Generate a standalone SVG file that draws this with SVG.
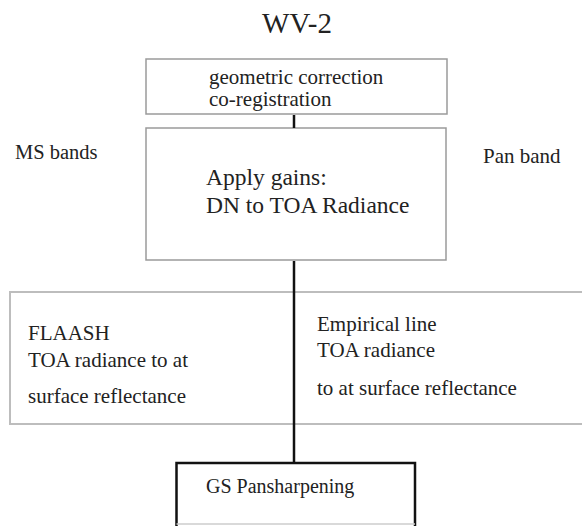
<svg xmlns="http://www.w3.org/2000/svg" width="582" height="526" viewBox="0 0 582 526">
<style>
.box{fill:#fff;stroke:#9a9a9a;stroke-width:1.5}
.wide{fill:#fff;stroke:#bdbdbd;stroke-width:2}
.bold{fill:#fff;stroke:#111;stroke-width:2.5}
.conn{stroke:#111;stroke-width:2.5;fill:none}
</style>
<rect width="582" height="526" fill="#fff"/>
<g font-family="Liberation Serif, DejaVu Serif, serif" fill="#222">
<text x="297" y="33" font-size="29" text-anchor="middle">WV-2</text>
<text x="15" y="159" font-size="20.5">MS bands</text>
<text x="483" y="163" font-size="21">Pan band</text>
<g id="geo">
<rect class="box" x="146" y="59" width="301" height="55"/>
<text x="209" y="84" font-size="21">geometric correction</text>
<text x="209" y="106" font-size="21">co-registration</text>
</g>
<g id="gains">
<rect class="box" x="146" y="128" width="300" height="132"/>
<text x="206" y="185" font-size="23.5">Apply gains:</text>
<text x="206" y="213" font-size="23.5">DN to TOA Radiance</text>
</g>
<g id="atmos">
<rect class="wide" x="10" y="292" width="590" height="132"/>
<text x="28" y="340" font-size="21">FLAASH</text>
<text x="28" y="367" font-size="21">TOA radiance to at</text>
<text x="28" y="403" font-size="21">surface reflectance</text>
<text x="317" y="331" font-size="21">Empirical line</text>
<text x="317" y="357" font-size="21">TOA radiance</text>
<text x="317" y="395" font-size="21">to at surface reflectance</text>
</g>
<g id="gs">
<path d="M176.5 526V463H415V526" class="bold"/>
<line x1="176.5" y1="524" x2="415" y2="524" stroke="#ccc" stroke-width="1.5"/>
<text x="206" y="493" font-size="20">GS Pansharpening</text>
</g>
</g>
<g id="connectors">
<line class="conn" x1="294" y1="115" x2="294" y2="128"/>
<line class="conn" x1="294" y1="261" x2="294" y2="463"/>
</g>
</svg>
